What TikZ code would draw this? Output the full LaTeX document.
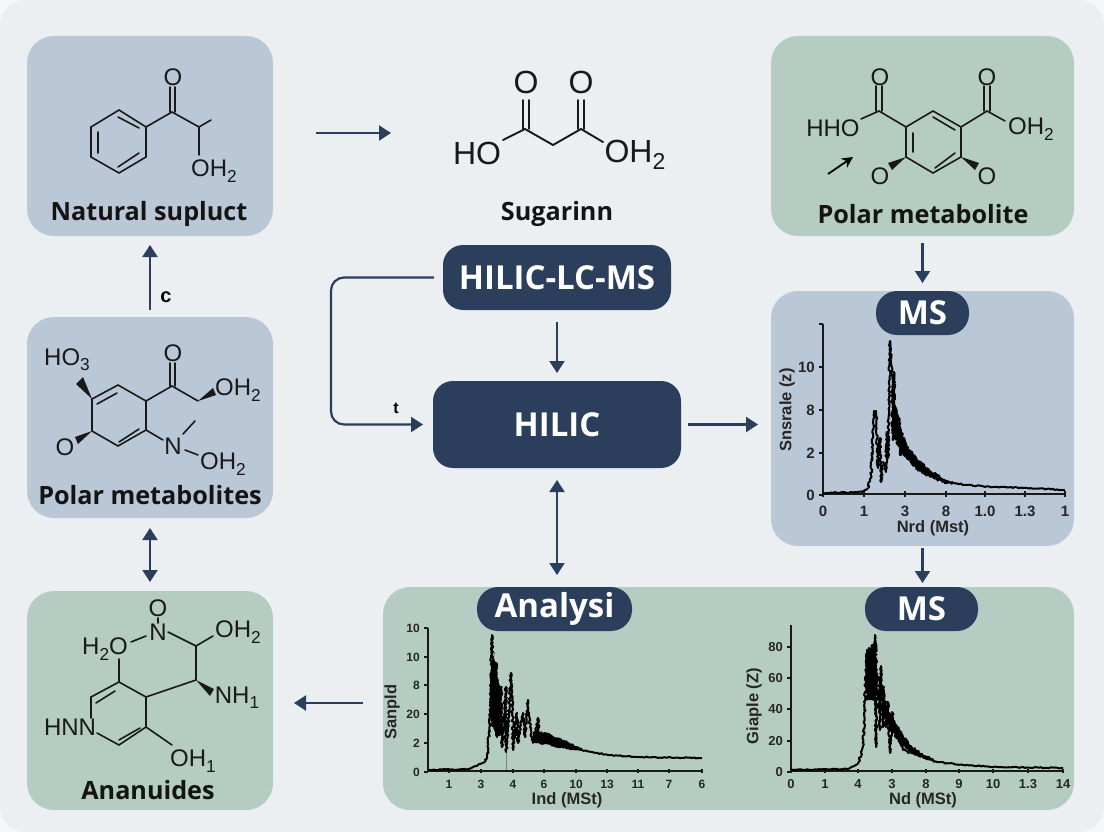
\documentclass[tikz,border=0pt]{standalone}
\usepackage{fontspec}
\setmainfont{Liberation Sans}
\newfontfamily\titlefont{Open Sans}
\usetikzlibrary{arrows.meta,decorations.pathmorphing}
\definecolor{cornerbg}{HTML}{F6F7F8}
\definecolor{pagebg}{HTML}{EBEFF2}
\definecolor{bluepanel}{HTML}{B9C7D7}
\definecolor{greenpanel}{HTML}{B5CCC2}
\definecolor{navy}{HTML}{2B3F5C}
\newcommand{\chemsub}[1]{\raisebox{-0.22em}{\scalebox{0.72}{#1}}}
\tikzset{
  panel/.style={rounded corners=27pt,inner sep=0pt,outer sep=0pt},
  darkbox/.style={fill=navy,text=white,rounded corners=20pt,inner sep=0pt,outer sep=0pt,font=\titlefont\bfseries\fontsize{33}{33}\selectfont},
  boxlabel/.style={font=\titlefont\bfseries\fontsize{25.2}{26}\selectfont,text=black!92,inner sep=0pt},
  atom/.style={font=\fontsize{24}{24}\selectfont,inner sep=0pt,text=black!90},
  bigatom/.style={font=\fontsize{32}{32}\selectfont,inner sep=0pt,text=black!90},
  bond/.style={line width=1.6pt,line cap=round,black!90},
  bigbond/.style={line width=1.9pt,line cap=round,black!90},
  wedge/.style={fill=black!90},
  flow/.style={navy,line width=2.2pt,-{Triangle[length=12pt,width=15pt]}},
  flowboth/.style={navy,line width=2.2pt,{Triangle[length=12pt,width=15pt]}-{Triangle[length=12pt,width=15pt]}},
  axisline/.style={line width=1.3pt,black!90},
  tick/.style={font=\bfseries\fontsize{15}{15}\selectfont,inner sep=0pt,text=black!85},
  midtick/.style={font=\bfseries\fontsize{13}{13}\selectfont,inner sep=0pt,text=black!85},
  smalltick/.style={font=\bfseries\fontsize{12}{12}\selectfont,inner sep=0pt,text=black!85},
  axistitle/.style={font=\bfseries\fontsize{16.5}{16.5}\selectfont,inner sep=0pt,text=black!85},
  tailline/.style={line width=2pt,black,line join=round,decorate,decoration={random steps,segment length=2pt,amplitude=0.6pt}},
  peakline/.style={line width=2pt,black,line join=round,decorate,decoration={random steps,segment length=1.5pt,amplitude=1.1pt}},
  denseband/.style={fill=black,decorate,decoration={random steps,segment length=2pt,amplitude=1.2pt}}
}
\begin{document}
\begin{tikzpicture}[x=1pt,y=-1pt]
\pgfmathsetseed{11}
\useasboundingbox (0,0) rectangle (1104,832);
\fill[cornerbg] (0,0) rectangle (1104,832);
\fill[pagebg,rounded corners=25pt] (0,0) rectangle (1104,832);

\node[panel,fill=bluepanel,minimum width=246pt,minimum height=200pt] (naturalbox) at (150,136) {};
\node[panel,fill=bluepanel,minimum width=246pt,minimum height=201pt] (polarbox) at (150,417.5) {};
\node[panel,fill=greenpanel,minimum width=246pt,minimum height=219pt] (ananuidesbox) at (150,700.5) {};
\node[panel,fill=greenpanel,minimum width=303pt,minimum height=200pt] (metabolitebox) at (922.5,136) {};
\node[panel,fill=bluepanel,minimum width=303pt,minimum height=255pt] (msbox) at (922.5,418.5) {};
\node[panel,fill=greenpanel,minimum width=691pt,minimum height=223pt] (analysisbox) at (728.5,698.5) {};
\node[darkbox,minimum width=228pt,minimum height=65pt] (hiliclcms) at (557,277.5) {HILIC-LC-MS};
\node[darkbox,minimum width=248pt,minimum height=87pt] (hilic) at (557,424.5) {HILIC};
\node[darkbox,minimum width=93pt,minimum height=44pt,rounded corners=21pt] (mspill) at (922.5,313) {MS};
\node[darkbox,minimum width=155pt,minimum height=44pt,rounded corners=21pt] (analysispill) at (554.5,609) {Analysi};
\node[darkbox,minimum width=113pt,minimum height=44pt,rounded corners=21pt] (mspilltwo) at (921.5,609) {MS};

\node[boxlabel] (naturallabel) at (149,214) {Natural supluct};
\node[boxlabel] (sugarlabel) at (557,214) {Sugarinn};
\node[boxlabel] (metabolitelabel) at (923,214) {Polar metabolite};
\node[boxlabel] (polarlabel) at (150,495) {Polar metabolites};
\node[boxlabel] (ananuideslabel) at (148,790) {Ananuides};

\coordinate (sugarin) at (391,133);
\coordinate (naturalout) at (273,133);
\coordinate (elbowtop) at (331,277.5);
\coordinate (elbowbottom) at (331,424.5);
\coordinate (analysisout) at (383,703);
\draw[flow,shorten <=43pt] (naturalout) -- (sugarin);
\draw[flow,shorten <=7pt,shorten >=9pt] (polarbox.north) -- (naturalbox.south);
\draw[flowboth,shorten <=10pt,shorten >=9pt] (polarbox.south) -- (ananuidesbox.north);
\draw[flow,shorten <=20pt,shorten >=21pt] (analysisout) -- (analysisout -| ananuidesbox.east);
\draw[flow,rounded corners=13pt,shorten <=9pt,shorten >=10pt] (hiliclcms.west) -- (elbowtop) -- (elbowbottom) -- (hilic.west);
\draw[flow,shorten <=12pt,shorten >=8pt] (hiliclcms.south) -- (hilic.north);
\draw[flow,shorten <=7pt,shorten >=13pt] (hilic.east) -- (hilic.east -| msbox.west);
\draw[flowboth,shorten <=12pt,shorten >=12pt] (hilic.south) -- (hilic.south |- analysisbox.north);
\draw[flow,shorten <=7pt,shorten >=8pt] (metabolitebox.south) -- (msbox.north);
\draw[flow,shorten <=2pt,shorten >=4pt] (msbox.south) -- (msbox.south |- analysisbox.north);
\node[font=\bfseries\fontsize{20}{20}\selectfont,inner sep=0pt] (clabel) at (166,297) {c};
\node[font=\bfseries\fontsize{16}{16}\selectfont,inner sep=0pt] (tlabel) at (396,408) {t};

\draw[bond] (119,110) -- (146,127) -- (146,157) -- (119,173) -- (91,157) -- (91,127) -- cycle;
\draw[bond] (98,132) -- (98,153) (118,117) -- (139,128) (118,167) -- (139,153);
\draw[bond] (146,127) -- (172,112) -- (199,127) -- (211,120) (199,127) -- (199,155);
\draw[bond] (170,87) -- (170,112) (175,87) -- (175,112);
\node[atom] (naturalo) at (173,77) {O};
\node[atom] (naturaloh) at (214,171) {OH\chemsub{2}};

\draw[bigbond] (503,140) -- (525,129) -- (553,145) -- (581,129) -- (603,142);
\draw[bigbond] (523,100) -- (523,129) (529,100) -- (529,129) (578,100) -- (578,129) (584,100) -- (584,129);
\node[bigatom] (sugaroa) at (526,82) {O};
\node[bigatom] (sugarob) at (581,82) {O};
\node[bigatom] (sugarho) at (477,153) {HO};
\node[bigatom] (sugaroh) at (635,155) {OH\chemsub{2}};

\draw[bond] (933,111) -- (961,127) -- (961,157) -- (933,173) -- (906,157) -- (906,127) -- cycle;
\draw[bond] (933,117) -- (955,130) (913,133) -- (913,152) (935,168) -- (955,153);
\draw[bond] (906,127) -- (879,111) -- (861,119) (961,127) -- (987,111) -- (1005,121);
\draw[bond] (876,86) -- (876,111) (882,86) -- (882,111) (984,86) -- (984,111) (990,86) -- (990,111);
\fill[wedge] (906,157) -- (888,163) -- (892,170) -- cycle;
\fill[wedge] (961,157) -- (979,163) -- (975,170) -- cycle;
\draw[black,line width=1.8pt,-{Stealth[length=11pt,width=11pt]}] (828,174) -- (853,157);
\node[atom] (metaboliteoa) at (880,77) {O};
\node[atom] (metaboliteob) at (987,77) {O};
\node[atom] (metabolitehho) at (833,128) {HHO};
\node[atom] (metaboliteoh) at (1031,129) {OH\chemsub{2}};
\node[atom] (metaboliteoc) at (880,176) {O};
\node[atom] (metaboliteod) at (987,176) {O};

\draw[bond] (118,385) -- (146,401) -- (146,430) -- (118,446) -- (92,431) -- (92,399) -- cycle;
\draw[bond] (97,404) -- (117,393) (119,442) -- (139,429);
\draw[bond] (146,401) -- (172,386) -- (198,401) (146,430) -- (163,440);
\draw[bond] (170,363) -- (170,386) (175,363) -- (175,386);
\draw[bond] (183,434) -- (195,421) (185,450) -- (198,455);
\fill[wedge] (92,399) -- (76,384) -- (83,377) -- cycle;
\fill[wedge] (92,431) -- (75,437) -- (78,444) -- cycle;
\fill[wedge] (198,401) -- (213,388) -- (216,395) -- cycle;
\node[atom] (polarhoo) at (67,360) {HO\chemsub{3}};
\node[atom] (polaro) at (173,353) {O};
\node[atom] (polaroh) at (238,390) {OH\chemsub{2}};
\node[atom] (polaroo) at (65,447) {O};
\node[atom] (polarn) at (173,446) {N};
\node[atom] (polarohb) at (223,464) {OH\chemsub{2}};

\draw[bond] (91,718) -- (91,697) -- (119,682) -- (146,697) -- (146,727) -- (119,745) -- (97,733);
\draw[bond] (96,703) -- (115,691) (119,740) -- (140,728);
\draw[bond] (119,682) -- (119,659) (131,642) -- (146,636) (158,618) -- (158,623);
\draw[bond] (168,632) -- (196,646) -- (213,636) (196,646) -- (196,680) -- (146,697) (146,727) -- (172,745);
\fill[wedge] (196,680) -- (210,696) -- (214,689) -- cycle;
\node[atom] (ananuidesh) at (105,649) {H\chemsub{2}O};
\node[atom] (ananuidesn) at (158,632) {N};
\node[atom] (ananuidesoo) at (158,608) {O};
\node[atom] (ananuidesoh) at (238,632) {OH\chemsub{2}};
\node[atom] (ananuidesnh) at (237,698) {NH\chemsub{1}};
\node[atom] (ananuideshn) at (70,727) {HNN};
\node[atom] (ananuidesohb) at (193,761) {OH\chemsub{1}};

\draw[axisline] (823,324) -- (823,494) -- (1065,494);
\draw[axisline] (819,324) -- (823,324);
\foreach \py/\pt in {367/10,410/8,453/2,495/0} {
  \draw[axisline] (819,\py) -- (823,\py);
  \node[tick,anchor=east] (msy\py) at (815,\py) {\pt};
}
\foreach \px/\pt in {823/0,864/1,905/3,946/8,985/1.0,1025/1.3,1065/1} {
  \draw[axisline] (\px,491) -- (\px,497);
  \node[tick] (msx\px) at (\px,511) {\pt};
}
\node[axistitle,rotate=90] (msytitle) at (787,410) {Snsrale (z)};
\node[axistitle] (msxtitle) at (933,528) {Nrd (Mst)};
\fill[denseband] (893,395) -- (900,425) -- (907,445) -- (917,458) -- (930,470) -- (947,480) -- (960,484) -- (947,484) -- (930,478) -- (917,470) -- (907,460) -- (900,450) -- (893,435) -- cycle;
\draw[tailline] (823,493) -- (862,492) -- (868,488);
\draw[peakline] (868,488) -- (871,475) -- (874,411) -- (876,411) -- (878,468) -- (880,438) -- (881,482) -- (883,462) -- (886,472) -- (887,432) -- (888,458) -- (890,341) -- (892,368) -- (893,440) -- (894,372) -- (895,435) -- (896,410) -- (897,438) -- (899,418) -- (901,455) -- (907,452) -- (917,465) -- (930,475) -- (947,482);
\draw[tailline] (947,482) -- (967,485) -- (993,487) -- (1027,488) -- (1065,490);

\draw[axisline] (428,628) -- (428,771) -- (702,771);
\foreach \py/\pt in {628/10,657/10,685/8,714/20,743/2,772/0} {
  \draw[axisline] (424,\py) -- (428,\py);
  \node[smalltick,anchor=east] (anay\py) at (420,\py) {\pt};
}
\foreach \px/\pt in {449/1,481/3,513/4,544/6,576/10,607/13,638/11,669/7,702/6} {
  \draw[axisline] (\px,769) -- (\px,773);
  \node[smalltick] (anax\px) at (\px,784) {\pt};
}
\node[axistitle,rotate=90] (anaytitle) at (392,712) {Sanpld};
\node[axistitle] (anaxtitle) at (567,800) {Ind (MSt)};
\draw[tailline] (428,770) -- (468,769) -- (473,767) -- (485,762);
\draw[gray,line width=0.6pt] (506,752) -- (506,770);
\fill[denseband] (490,690) -- (494,650) -- (497,700) -- (500,690) -- (501,735) -- (495,735) -- (490,720) -- cycle;
\fill[denseband] (533,732) -- (545,732) -- (565,741) -- (582,748) -- (582,751) -- (565,748) -- (545,744) -- (533,742) -- cycle;
\draw[peakline] (485,762) -- (488,750) -- (490,717) -- (492,635) -- (493,693) -- (496,663) -- (497,737) -- (498,680) -- (499,733) -- (501,687) -- (502,747) -- (506,687) -- (506,752) -- (508,730) -- (511,673) -- (512,693) -- (513,750) -- (517,713) -- (518,743) -- (523,713) -- (525,737) -- (528,700) -- (530,727) -- (533,743) -- (538,718) -- (540,743) -- (545,737) -- (552,745) -- (565,747) -- (582,750);
\draw[tailline] (582,750) -- (608,755) -- (642,757) -- (702,758);

\draw[axisline] (791,625) -- (791,771) -- (1063,771);
\foreach \py/\pt in {647/80,678/60,709/40,741/20,772/0} {
  \draw[axisline] (787,\py) -- (791,\py);
  \node[midtick,anchor=east] (specy\py) at (783,\py) {\pt};
}
\foreach \px/\pt in {791/0,825/1,858/4,892/3,926/8,959/9,993/10,1028/1.3,1063/14} {
  \draw[axisline] (\px,769) -- (\px,773);
  \node[midtick] (specx\px) at (\px,784) {\pt};
}
\node[axistitle,rotate=90] (specytitle) at (754,706) {Giaple (Z)};
\node[axistitle] (specxtitle) at (923,800) {Nd (MSt)};
\fill[denseband] (866,655) -- (871,648) -- (876,640) -- (878,670) -- (875,700) -- (870,700) -- (867,700) -- cycle;
\fill[denseband] (885,705) -- (892,715) -- (900,730) -- (910,745) -- (925,755) -- (937,761) -- (925,759) -- (910,752) -- (900,742) -- (890,730) -- cycle;
\draw[tailline] (791,770) -- (847,769) -- (858,764);
\draw[peakline] (858,764) -- (863,747) -- (864,723) -- (867,650) -- (867,693) -- (869,648) -- (870,697) -- (872,645) -- (873,680) -- (875,635) -- (876,747) -- (877,680) -- (879,677) -- (880,730) -- (881,666) -- (883,727) -- (884,687) -- (886,727) -- (888,702) -- (890,753) -- (892,712) -- (896,733) -- (903,750) -- (917,755) -- (937,762);
\draw[tailline] (937,762) -- (963,765) -- (997,767) -- (1063,768);
\end{tikzpicture}
\end{document}
